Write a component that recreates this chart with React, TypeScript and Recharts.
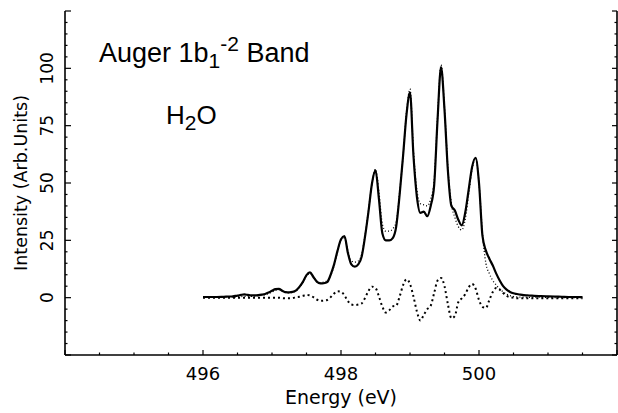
import React from 'react';
import { LineChart, Line, XAxis, YAxis } from 'recharts';

// Energy grid (eV)
const energy = [
  496.0, 496.1, 496.2, 496.3, 496.4, 496.45, 496.5, 496.55, 496.6, 496.65, 496.7, 496.75, 496.8, 496.85, 496.9, 496.95,
  497.0, 497.05, 497.1, 497.15, 497.2, 497.25, 497.3, 497.35, 497.4, 497.45, 497.5, 497.55, 497.6, 497.65, 497.7, 497.75, 497.8, 497.85, 497.9, 497.95,
  498.0, 498.05, 498.1, 498.15, 498.2, 498.25, 498.3, 498.35, 498.4, 498.45, 498.5, 498.55, 498.6, 498.65, 498.7, 498.75, 498.8, 498.85, 498.9, 498.95,
  499.0, 499.05, 499.1, 499.15, 499.2, 499.25, 499.3, 499.35, 499.4, 499.45, 499.5, 499.55, 499.6, 499.65, 499.7, 499.75, 499.8, 499.85, 499.9, 499.95,
  500.0, 500.05, 500.1, 500.15, 500.2, 500.25, 500.3, 500.35, 500.4, 500.45, 500.5, 500.55, 500.6, 500.65, 500.7, 500.75, 500.8, 500.9,
  501.0, 501.1, 501.2, 501.3, 501.4, 501.5,
];

// Measured spectrum (solid)
const measured = [
  0.3, 0.3, 0.3, 0.4, 0.5, 0.7, 0.9, 1.2, 1.4, 1.2, 1.0, 1.0, 1.1, 1.3, 1.6, 2.2,
  3.0, 3.7, 3.8, 3.0, 2.4, 2.3, 2.5, 3.2, 4.8, 7.0, 9.8, 11.0, 9.0, 7.0, 6.2, 6.3, 6.8, 10.0, 14.5, 20.5,
  25.5, 26.8, 19.5, 14.5, 13.5, 14.5, 18.0, 27.0, 38.0, 50.0, 55.5, 43.0, 28.0, 25.0, 25.0, 26.0, 31.0, 45.0, 62.0, 80.0,
  89.5, 62.0, 44.0, 37.0, 37.5, 35.5, 40.0, 49.0, 78.0, 100.5, 82.0, 55.0, 40.0, 38.0, 34.0, 31.5, 37.0, 47.0, 57.0, 61.0,
  50.0, 27.0, 20.5, 17.0, 14.0, 10.5, 7.5, 5.0, 3.5, 2.5, 1.9, 1.6, 1.3, 1.1, 1.0, 0.9, 0.8, 0.7,
  0.6, 0.5, 0.4, 0.3, 0.3, 0.2,
];

// Fitted spectrum (fine dotted)
const fitted = [
  0.1, 0.1, 0.1, 0.2, 0.2, 0.3, 0.4, 0.5, 0.6, 0.6, 0.6, 0.7, 0.8, 1.0, 1.3, 1.8,
  2.5, 3.2, 3.4, 2.8, 2.2, 2.1, 2.4, 3.0, 4.5, 6.8, 9.4, 10.6, 9.0, 7.0, 6.6, 6.8, 7.4, 9.5, 14.0, 20.0,
  25.0, 26.0, 20.5, 16.0, 15.5, 16.0, 19.0, 27.5, 38.5, 50.0, 56.0, 46.0, 32.0, 29.0, 29.0, 30.0, 33.0, 46.0, 62.0, 81.0,
  91.0, 64.0, 47.0, 41.0, 40.5, 40.0, 43.0, 51.0, 79.0, 101.5, 83.0, 56.0, 41.0, 35.0, 31.0, 29.5, 34.0, 45.0, 56.0, 61.0,
  50.0, 28.0, 15.0, 10.5, 7.5, 5.5, 3.8, 2.5, 1.5, 0.9, 0.5, 0.3, 0.2, 0.2, 0.1, 0.1, 0.1, 0.1,
  0.1, 0.0, 0.0, 0.0, 0.0, 0.0,
];

// Difference curve (coarse dotted)
const difference = [
  0, 0, 0, 0, 0, 0, 0, 0, 0, 0, 0, 0, 0, 0, 0, 0,
  0, 0, 0, -0.2, -0.3, -0.3, -0.2, 0.2, 0.4, 0.8, 1.2, 1.0, 0.2, -0.8, -1.4, -1.3, -1.0, 0.2, 1.8, 2.8,
  2.6, 1.0, -1.5, -3.0, -3.2, -3.0, -2.5, 0.0, 3.0, 4.8, 4.2, 0.5, -4.0, -6.5, -5.5, -3.8, -3.5, 0.5, 5.5, 8.0,
  6.0, 0.5, -6.0, -10.0, -7.5, -5.0, -3.5, 2.0, 7.5, 8.6, 5.0, -3.0, -9.0, -8.0, -2.0, -0.3, 1.5, 4.5, 6.0, 4.0,
  -1.0, -4.0, -4.5, -1.0, 2.5, 4.2, 3.5, 2.0, 0.8, 0.2, 0.0, -0.3, -0.3, -0.3, -0.3, -0.3, -0.3, -0.3,
  -0.3, -0.3, -0.3, -0.3, -0.3, -0.3,
];

const xTicks = [494, 494.5, 495, 495.5, 496, 496.5, 497, 497.5, 498, 498.5, 499, 499.5, 500, 500.5, 501, 501.5, 502];
const xMajor = [494, 496, 498, 500, 502];
const xLabels = [496, 498, 500];
const yTicks = [-25, -20, -15, -10, -5, 0, 5, 10, 15, 20, 25, 30, 35, 40, 45, 50, 55, 60, 65, 70, 75, 80, 85, 90, 95, 100, 105, 110, 115, 120, 125];
const yMajor = [-25, 0, 25, 50, 75, 100, 125];
const yLabels = [0, 25, 50, 75, 100];

const rows = energy.map((e, i) => ({ e, s: measured[i], f: fitted[i], d: difference[i] }));

const FONT = '"DejaVu Sans", sans-serif';
const TITLE_FONT = '"Liberation Sans", Arial, sans-serif';
const MAJ = 5;
const MIN = 2.5;

const BottomTick = (props: any) => {
  const { x, y, payload } = props;
  const v = payload.value;
  const len = xMajor.includes(v) ? MAJ : MIN;
  return (
    <g>
      <line x1={x} y1={y} x2={x} y2={y - len} stroke="#000" strokeWidth={1.2} />
      {xLabels.includes(v) && (
        <text x={x} y={y + 25} textAnchor="middle" fontSize={18} fontFamily={FONT} fill="#000">{v}</text>
      )}
    </g>
  );
};

const TopTick = (props: any) => {
  const { x, y, payload } = props;
  const len = xMajor.includes(payload.value) ? MAJ : MIN;
  return <line x1={x} y1={y} x2={x} y2={y + len} stroke="#000" strokeWidth={1.2} />;
};

const LeftTick = (props: any) => {
  const { x, y, payload } = props;
  const v = payload.value;
  const len = yMajor.includes(v) ? MAJ + 1 : MIN;
  const lx = x - 12;
  return (
    <g>
      <line x1={x} y1={y} x2={x + len} y2={y} stroke="#000" strokeWidth={1.2} />
      {yLabels.includes(v) && (
        <text x={lx} y={y} transform={`rotate(-90, ${lx}, ${y})`} textAnchor="middle" fontSize={17} fontFamily={FONT} fill="#000">{v}</text>
      )}
    </g>
  );
};

const RightTick = (props: any) => {
  const { x, y, payload } = props;
  const len = yMajor.includes(payload.value) ? MAJ : MIN;
  return <line x1={x} y1={y} x2={x - len} y2={y} stroke="#000" strokeWidth={1.2} />;
};

const axisLine = { stroke: '#000', strokeWidth: 1.6 };

export default function App() {
  return (
    <div style={{ position: 'absolute', left: 0, top: 0, width: 618, height: 413, background: '#fff' }}>
      <LineChart width={618} height={413} data={rows} margin={{ top: 11, right: 0, bottom: 0, left: 0 }}>
        <XAxis xAxisId="b" dataKey="e" type="number" domain={[494, 502]} allowDataOverflow ticks={xTicks} interval={0}
          orientation="bottom" height={58} tickSize={0} tickMargin={0} tickLine={false} axisLine={axisLine} tick={BottomTick} />
        <XAxis xAxisId="t" dataKey="e" type="number" domain={[494, 502]} allowDataOverflow ticks={xTicks} interval={0}
          orientation="top" height={0} tickSize={0} tickMargin={0} tickLine={false} axisLine={axisLine} tick={TopTick} />
        <YAxis yAxisId="l" type="number" domain={[-25, 125]} allowDataOverflow ticks={yTicks} interval={0}
          orientation="left" width={65} tickSize={0} tickMargin={0} tickLine={false} axisLine={axisLine} tick={LeftTick} />
        <YAxis yAxisId="r" type="number" domain={[-25, 125]} allowDataOverflow ticks={yTicks} interval={0}
          orientation="right" width={1} tickSize={0} tickMargin={0} tickLine={false} axisLine={axisLine} tick={RightTick} />
        <Line xAxisId="b" yAxisId="l" dataKey="s" type="monotone" stroke="#000" strokeWidth={2.2} dot={false} isAnimationActive={false} />
        <Line xAxisId="b" yAxisId="l" dataKey="f" type="monotone" stroke="#000" strokeWidth={1.3} strokeDasharray="1 2.2" dot={false} isAnimationActive={false} />
        <Line xAxisId="b" yAxisId="l" dataKey="d" type="monotone" stroke="#000" strokeWidth={2} strokeDasharray="2 3" dot={false} isAnimationActive={false} />
      </LineChart>
      <svg width={618} height={413} style={{ position: 'absolute', left: 0, top: 0, pointerEvents: 'none' }}>
        <text x={99} y={62} fontSize={27} fontFamily={TITLE_FONT} fill="#000">
          Auger 1b
          <tspan fontSize={21} dy={6}>1</tspan>
          <tspan fontSize={21} dy={-17}>-2</tspan>
          <tspan dy={11}> Band</tspan>
        </text>
        <text x={166} y={124} fontSize={26} fontFamily={TITLE_FONT} fill="#000">
          H
          <tspan fontSize={21} dy={6}>2</tspan>
          <tspan dy={-6}>O</tspan>
        </text>
        <text x={341} y={404} textAnchor="middle" fontSize={19} fontFamily={FONT} fill="#000">Energy (eV)</text>
        <text x={27} y={183} transform="rotate(-90, 27, 183)" textAnchor="middle" fontSize={17.5} fontFamily={FONT} fill="#000">Intensity (Arb.Units)</text>
      </svg>
    </div>
  );
}
